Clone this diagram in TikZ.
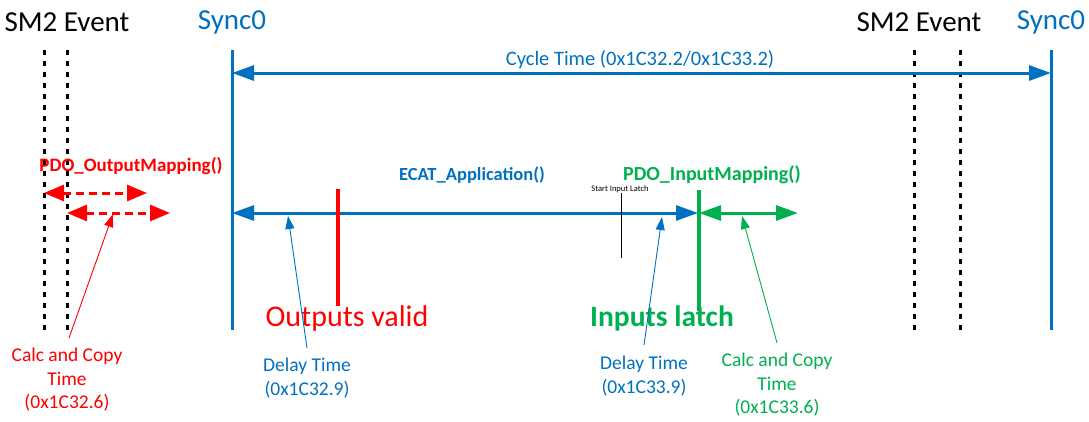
\documentclass[tikz,border=0pt]{standalone}
\usepackage{fontspec}
\setmainfont{Carlito}
\usetikzlibrary{arrows.meta}
\definecolor{eblue}{HTML}{0070C0}
\definecolor{ered}{HTML}{FF0000}
\definecolor{egreen}{HTML}{00B050}
\tikzset{
  lbl/.style={inner sep=0pt, align=center},
  big/.style={font=\fontsize{29}{34}\selectfont},
  mid/.style={font=\fontsize{19.5}{23.5}\selectfont},
  fn/.style={font=\fontsize{19}{22}\selectfont\bfseries},
  huge/.style={font=\fontsize{30}{34}\selectfont},
  dotline/.style={line width=3pt, dash pattern=on 5pt off 6pt, black},
  bar/.style={line width=3pt, eblue},
  harrow/.style={line width=3pt, {Triangle[length=22pt,width=15pt]}-{Triangle[length=22pt,width=15pt]}},
  dharrow/.style={line width=3pt, dash pattern=on 8pt off 5pt, ered, {Triangle[length=20pt,width=16pt]}-{Triangle[length=20pt,width=16pt]}},
  pointer/.style={line width=0.9pt, -{Triangle[length=13pt,width=9pt]}}
}
\begin{document}
\begin{tikzpicture}[x=1pt,y=-1pt]
\useasboundingbox (0,0) rectangle (1089,421);
% headers
\node[lbl,big] (sm2l) at (67,22) {SM2 Event};
\node[lbl,big,text=eblue] (syncl) at (232,22) {Sync0};
\node[lbl,big] (sm2r) at (919,22) {SM2 Event};
\node[lbl,big,text=eblue] (syncr) at (1051,22) {Sync0};
% vertical lines
\coordinate (dl1t) at (44,50); \coordinate (dl1b) at (44,330);
\coordinate (dl2t) at (67,50); \coordinate (dl2b) at (67,330);
\coordinate (dr1t) at (914,50); \coordinate (dr1b) at (914,330);
\coordinate (dr2t) at (960,50); \coordinate (dr2b) at (960,330);
\coordinate (s0t) at (232,50); \coordinate (s0b) at (232,330);
\coordinate (s1t) at (1051,50); \coordinate (s1b) at (1051,330);
\draw[dotline] (dl1t) -- (dl1b);
\draw[dotline] (dl2t) -- (dl2b);
\draw[dotline] (dr1t) -- (dr1b);
\draw[dotline] (dr2t) -- (dr2b);
\draw[bar] (s0t) -- (s0b);
\draw[bar] (s1t) -- (s1b);
% cycle time
\coordinate (ctl) at (232,73); \coordinate (ctr) at (1051,73);
\draw[harrow, eblue] (ctl) -- (ctr);
\node[lbl,mid,font=\fontsize{20.5}{24}\selectfont,text=eblue] (ct) at (640,60) {Cycle Time (0x1C32.2/0x1C33.2)};
% output mapping
\node[lbl,fn,text=ered] (pom) at (131,166) {PDO\_OutputMapping()};
\coordinate (om1a) at (44,193); \coordinate (om1b) at (147,193);
\coordinate (om2a) at (67,213); \coordinate (om2b) at (170,213);
\draw[dharrow] (om1a) -- (om1b);
\draw[dharrow] (om2a) -- (om2b);
\node[lbl,mid,text=ered] (cc1) at (67,380) {Calc and Copy\\Time\\(0x1C32.6)};
\coordinate (cc1s) at (69,338); \coordinate (cc1e) at (113,214);
\draw[pointer, ered] (cc1s) -- (cc1e);
% ECAT application
\coordinate (eal) at (232,213); \coordinate (ear) at (698,213);
\draw[harrow, eblue] (eal) -- (ear);
\node[lbl,fn,font=\fontsize{18.5}{22}\selectfont\bfseries,text=eblue] (ea) at (472,175) {ECAT\_Application()};
% outputs valid
\coordinate (ovt) at (338,189); \coordinate (ovb) at (338,306);
\draw[line width=4pt, ered] (ovt) -- (ovb);
\node[lbl,huge,text=ered] (ov) at (347,318) {Outputs valid};
% delay time 1
\node[lbl,mid,text=eblue] (dt1) at (307,378) {Delay Time\\(0x1C32.9)};
\coordinate (dt1s) at (307,348); \coordinate (dt1e) at (288,216);
\draw[pointer, eblue] (dt1s) -- (dt1e);
% start input latch
\node[lbl,font=\fontsize{8.5}{10}\selectfont] (sil) at (620,189) {Start Input Latch};
\coordinate (silb) at (621,258);
\draw[line width=0.8pt] (sil.south -| silb) -- (silb);
% inputs latch
\coordinate (ilt) at (699,190); \coordinate (ilb) at (699,311);
\draw[line width=4pt, egreen] (ilt) -- (ilb);
\node[lbl,text=egreen,font=\fontsize{29.5}{34}\selectfont\bfseries] (il) at (662,318) {Inputs latch};
% input mapping
\node[lbl,fn,font=\fontsize{20}{23}\selectfont\bfseries,text=egreen] (pim) at (712,175) {PDO\_InputMapping()};
\coordinate (iml) at (699,213); \coordinate (imr) at (798,213);
\draw[harrow, egreen] (iml) -- (imr);
% delay time 2
\node[lbl,mid,text=eblue] (dt2) at (644,376) {Delay Time\\(0x1C33.9)};
\coordinate (dt2s) at (644,345); \coordinate (dt2e) at (662,217);
\draw[pointer, eblue] (dt2s) -- (dt2e);
% calc copy 2
\node[lbl,mid,text=egreen] (cc2) at (777,385) {Calc and Copy\\Time\\(0x1C33.6)};
\coordinate (cc2s) at (777,343); \coordinate (cc2e) at (742,216);
\draw[pointer, egreen] (cc2s) -- (cc2e);
\end{tikzpicture}
\end{document}
